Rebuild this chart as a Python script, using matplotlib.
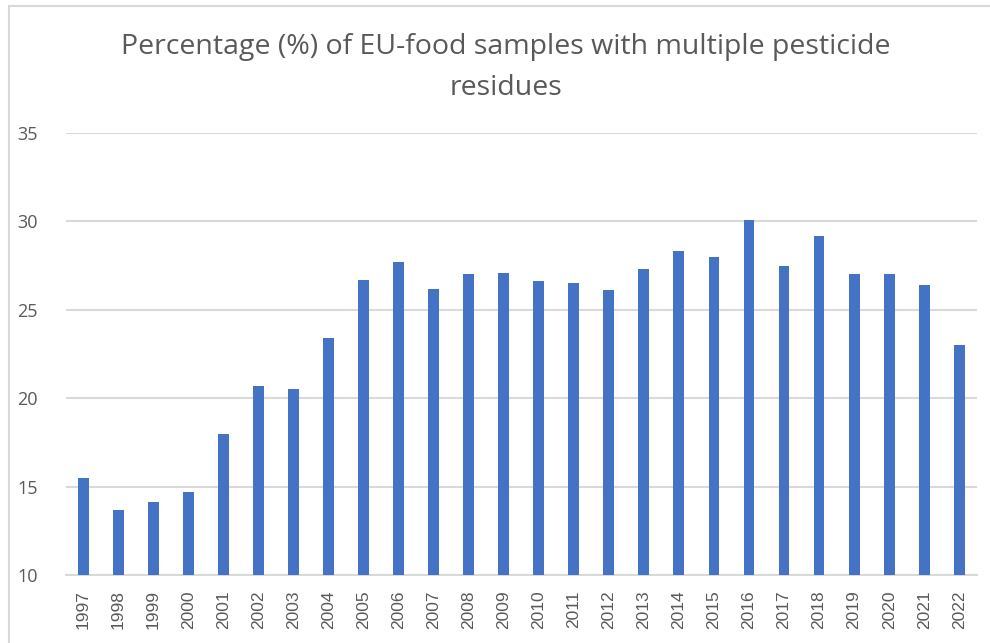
#! /usr/bin/env python

import numpy as np
import matplotlib.pyplot as plt
from matplotlib.patches import Rectangle

# data
years = ['1997', '1998', '1999', '2000', '2001', '2002', '2003', '2004', '2005',
         '2006', '2007', '2008', '2009', '2010', '2011', '2012', '2013', '2014',
         '2015', '2016', '2017', '2018', '2019', '2020', '2021', '2022']
percent = [15.5, 13.7, 14.1, 14.7, 18.0, 20.7, 20.5, 23.4, 26.7,
           27.7, 26.2, 27.0, 27.1, 26.6, 26.5, 26.1, 27.3, 28.3,
           28.0, 30.1, 27.5, 29.15, 27.0, 27.0, 26.4, 23.0]
yticks = [10, 15, 20, 25, 30, 35]

title = 'Percentage (%) of EU-food samples with multiple pesticide\nresidues'

if __name__ == "__main__":
    textcol = '#595959'
    gridcol = '#D9D9D9'

    fig = plt.figure(figsize=(9.9, 6.43), dpi=100)
    ax = fig.add_axes([0.0664, 0.1058, 0.9202, 0.6874])

    x = np.arange(len(years))
    ax.bar(x, percent, width=0.31, bottom=0, color='#4472C4', zorder=3)

    ax.set_xlim(-0.5, len(years) - 0.5)
    ax.set_ylim(10, 35)
    ax.set_yticks(yticks)
    ax.set_yticklabels([str(t) for t in yticks], fontsize=13, color=textcol,
                       family='Open Sans')
    ax.set_xticks(x)
    ax.set_xticklabels(years, rotation=90, fontsize=12.5, color=textcol,
                       family='Liberation Sans')
    ax.tick_params(axis='both', length=0)
    ax.tick_params(axis='y', pad=20)
    ax.tick_params(axis='x', pad=11)

    ax.grid(axis='y', color=gridcol, linewidth=1.5, zorder=0)
    for s in ['top', 'right', 'left']:
        ax.spines[s].set_visible(False)
    ax.spines['bottom'].set_color(gridcol)
    ax.spines['bottom'].set_linewidth(1.5)

    # chart title
    fig.text(0.511, 0.949, title, ha='center', va='top', fontsize=20.5,
             color=textcol, family='Open Sans', linespacing=1.62)

    # chart area border (cropped at right and bottom)
    fig.patches.append(Rectangle((9 / 990, -0.05), 1.1, 1 - 6 / 643 + 0.05,
                                 transform=fig.transFigure, fill=False,
                                 edgecolor=gridcol, linewidth=1.5))

    plt.savefig('out.png', dpi=100)
